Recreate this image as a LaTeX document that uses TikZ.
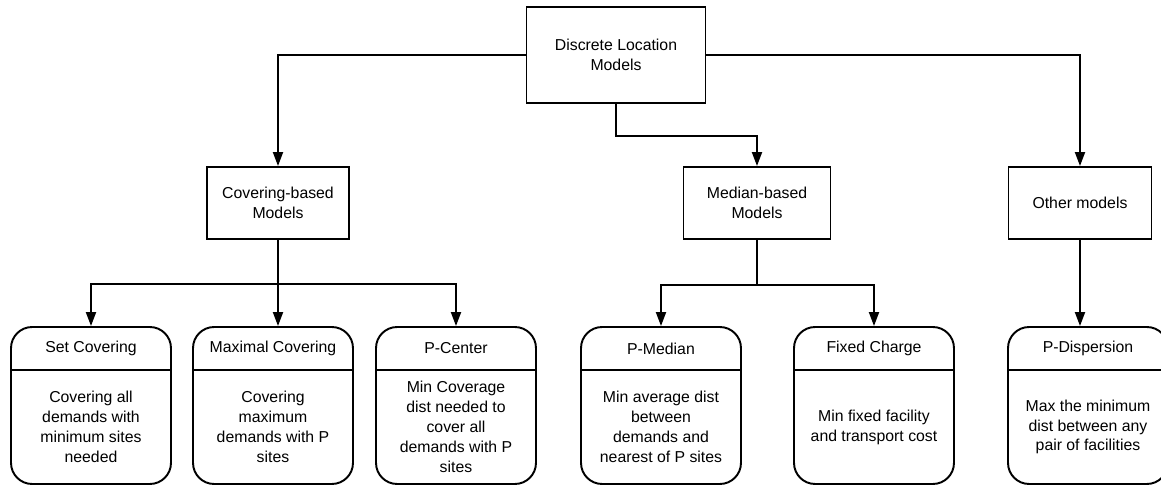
\documentclass[tikz,border=0pt]{standalone}
\usepackage{fontspec}
\setmainfont{Liberation Sans}
\usepackage{tikz}
\usetikzlibrary{arrows.meta, positioning, calc}

\tikzset{
  basebox/.style={draw, line width=1.1pt, align=center, inner sep=0pt,
                  font=\fontsize{9pt}{11.3pt}\selectfont},
  groupbox/.style={basebox, minimum height=1.44cm},
  leafbox/.style={draw, line width=1.1pt, rounded corners=12pt,
                  minimum width=3.2cm, minimum height=3.14cm, inner sep=0pt},
  leaftext/.style={align=center, inner sep=0pt,
                   font=\fontsize{9pt}{11.3pt}\selectfont},
  arr/.style={line width=1.1pt, -{Triangle[length=0.28cm,width=0.2cm]}},
  link/.style={line width=1.1pt}
}

% leaf box: name, x, title, description
\newcommand{\leafnode}[4]{%
  \node[leafbox] (#1) at (#2,405.5) {};
  \node[leaftext] (#1-title) at (#2,348.5) {#3};
  \node[leaftext] (#1-desc) at (#2,427) {#4};
  \draw[link] (#1.west |- 0,370) -- (#1.east |- 0,370);
}

\begin{document}
\begin{tikzpicture}[x=0.02cm,y=-0.02cm]
  \useasboundingbox (0,0) rectangle (1161,486);

  % root and groups
  \node[basebox, minimum width=3.58cm, minimum height=1.92cm] (root) at (616,55)
    {Discrete Location\\Models};
  \node[groupbox, minimum width=2.84cm] (cover) at (278,203) {Covering-based\\Models};
  \node[groupbox, minimum width=2.94cm] (median) at (757,203) {Median-based\\Models};
  \node[groupbox, minimum width=2.86cm] (other) at (1080,203) {Other models};

  % leaves
  \leafnode{setcov}{91}{Set Covering}{Covering all\\demands with\\minimum sites\\needed}
  \leafnode{maxcov}{273}{Maximal Covering}{Covering\\maximum\\demands with P\\sites}
  \leafnode{pcenter}{456}{P-Center}{Min Coverage\\dist needed to\\cover all\\demands with P\\sites}
  \leafnode{pmedian}{661}{P-Median}{Min average dist\\between\\demands and\\nearest of P sites}
  \leafnode{fixed}{874}{Fixed Charge}{Min fixed facility\\and transport cost}
  \leafnode{pdisp}{1088}{P-Dispersion}{Max the minimum\\dist between any\\pair of facilities}

  % connectors
  \draw[arr] (root.west) -| (cover.north);
  \draw[arr] (root.east) -| (other.north);
  \draw[arr] (root.south) -- ++(0,32) -| (median.north);

  \draw[arr] (cover.south) -- ++(0,44) -| (setcov.north);
  \draw[arr] (cover.south) ++(0,44) -| (pcenter.north);
  \draw[arr] (cover.south) -- (cover.south |- maxcov.north);

  \draw[arr] (median.south) -- ++(0,45) -| (pmedian.north);
  \draw[arr] (median.south) ++(0,45) -| (fixed.north);

  \draw[arr] (other.south) -- (other.south |- pdisp.north);
\end{tikzpicture}
\end{document}
